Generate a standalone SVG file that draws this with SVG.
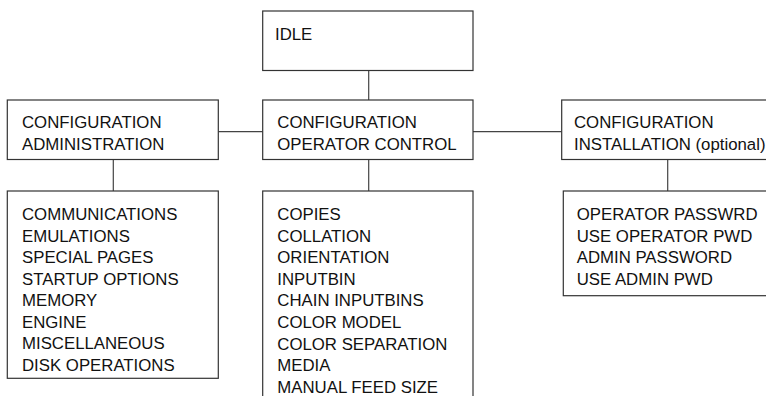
<svg xmlns="http://www.w3.org/2000/svg" width="766" height="396" viewBox="0 0 766 396">
<style>
.box{fill:#fff;stroke:#333;stroke-width:1.2}
.con{stroke:#444;stroke-width:1.2;fill:none}
text{font-family:"Liberation Sans",Arial,sans-serif;font-size:16.8px;fill:#111}
</style>
<rect width="766" height="396" fill="#fff"/>
<g id="connectors">
<line class="con" x1="368.7" y1="70.5" x2="368.7" y2="100"/>
<line class="con" x1="218.3" y1="131.7" x2="262.7" y2="131.7"/>
<line class="con" x1="473" y1="131.7" x2="561.7" y2="131.7"/>
<line class="con" x1="113.3" y1="159.5" x2="113.3" y2="191"/>
<line class="con" x1="368.7" y1="159.5" x2="368.7" y2="191"/>
<line class="con" x1="667.7" y1="159.5" x2="667.7" y2="191"/>
</g>
<g id="idle">
<rect class="box" x="262.7" y="11" width="210.3" height="59.5"/>
<text x="275" y="40">IDLE</text>
</g>
<g id="config-admin">
<rect class="box" x="7.3" y="100" width="211" height="59.5"/>
<text x="22" y="128.3">CONFIGURATION</text>
<text x="22" y="150">ADMINISTRATION</text>
</g>
<g id="config-operator">
<rect class="box" x="262.7" y="100" width="210.3" height="59.5"/>
<text x="277.3" y="128.3">CONFIGURATION</text>
<text x="277.3" y="150">OPERATOR CONTROL</text>
</g>
<g id="config-install">
<rect class="box" x="561.7" y="100" width="220" height="59.5"/>
<text x="574" y="128.3">CONFIGURATION</text>
<text x="574" y="150">INSTALLATION (optional)</text>
</g>
<g id="admin-items">
<rect class="box" x="7.3" y="191" width="211" height="187.3"/>
<text x="22" y="220">COMMUNICATIONS</text>
<text x="22" y="241.5">EMULATIONS</text>
<text x="22" y="263">SPECIAL PAGES</text>
<text x="22" y="284.5">STARTUP OPTIONS</text>
<text x="22" y="306">MEMORY</text>
<text x="22" y="327.5">ENGINE</text>
<text x="22" y="349">MISCELLANEOUS</text>
<text x="22" y="370.5">DISK OPERATIONS</text>
</g>
<g id="operator-items">
<rect class="box" x="262.7" y="191" width="210.3" height="220"/>
<text x="277.3" y="220">COPIES</text>
<text x="277.3" y="241.6">COLLATION</text>
<text x="277.3" y="263.2">ORIENTATION</text>
<text x="277.3" y="284.8">INPUTBIN</text>
<text x="277.3" y="306.4">CHAIN INPUTBINS</text>
<text x="277.3" y="328">COLOR MODEL</text>
<text x="277.3" y="349.6">COLOR SEPARATION</text>
<text x="277.3" y="371.2">MEDIA</text>
<text x="277.3" y="392.8">MANUAL FEED SIZE</text>
</g>
<g id="install-items">
<rect class="box" x="563.3" y="191" width="220" height="104.7"/>
<text x="576.7" y="220">OPERATOR PASSWRD</text>
<text x="576.7" y="241.5">USE OPERATOR PWD</text>
<text x="576.7" y="263">ADMIN PASSWORD</text>
<text x="576.7" y="284.5">USE ADMIN PWD</text>
</g>
</svg>
